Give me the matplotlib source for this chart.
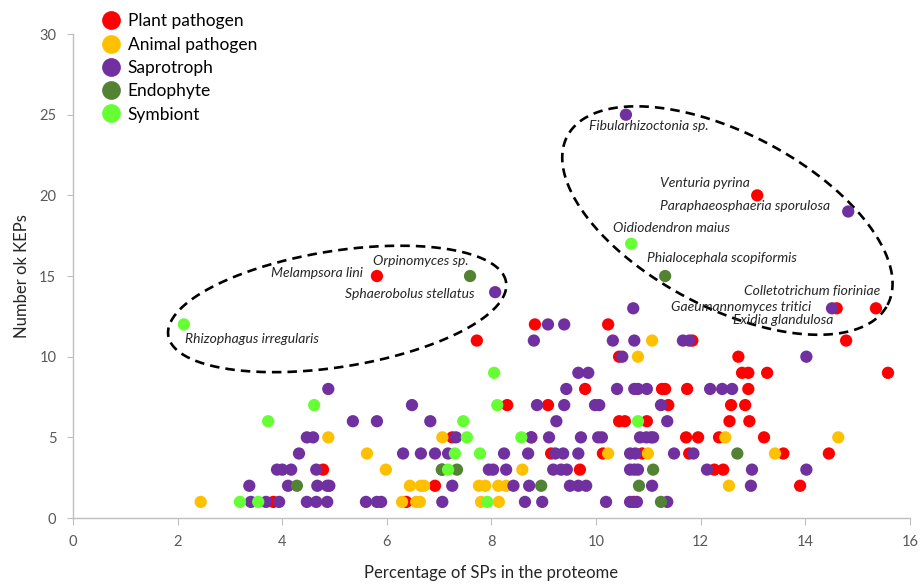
import numpy as np
import matplotlib.pyplot as plt
from matplotlib.lines import Line2D

plt.rcParams['font.family'] = ['Lato', 'DejaVu Sans']

# values (x = % SPs, y = number of KEPs)
plant_x = [5.81, 13.08, 14.60, 15.35,
           8.83, 10.23,
           7.72, 11.84, 14.78,
           10.44, 12.72,
           12.79, 12.91, 13.27, 15.58,
           9.79, 11.26, 11.32, 11.74, 12.91,
           8.30, 9.08, 11.38, 12.58, 12.85,
           10.44, 10.55, 10.97, 12.55, 12.93,
           7.25, 8.76, 11.05, 11.72, 11.95, 12.35, 13.21,
           9.14, 10.13, 10.88, 11.78, 13.58, 14.45,
           4.78, 9.69, 12.26, 12.43,
           6.92, 13.90,
           3.83, 6.37, 10.72]
plant_y = [15, 20, 13, 13,
           12, 12,
           11, 11, 11,
           10, 10,
           9, 9, 9, 9,
           8, 8, 8, 8, 8,
           7, 7, 7, 7, 7,
           6, 6, 6, 6, 6,
           5, 5, 5, 5, 5, 5, 5,
           4, 4, 4, 4, 4, 4,
           3, 3, 3, 3,
           2, 2,
           1, 1, 1]

animal_x = [11.07,
            10.80,
            4.88, 7.06, 12.47, 14.63,
            5.62, 10.23, 10.99, 13.42,
            5.98, 8.59,
            6.44, 6.65, 6.71, 7.76, 7.88, 8.13, 8.28, 12.54,
            2.44, 6.29, 6.56, 6.63, 7.80, 8.14]
animal_y = [11,
            10,
            5, 5, 5, 5,
            4, 4, 4, 4,
            3, 3,
            2, 2, 2, 2, 2, 2, 2, 2,
            1, 1, 1, 1, 1, 1]

sapro_x = [8.07, 10.57, 14.82, 14.51,
           10.71,
           9.08, 9.39,
           8.81, 10.32, 10.73, 11.66, 11.78,
           10.50, 14.02,
           9.66, 9.85,
           4.88, 9.43, 10.40, 10.73, 10.80, 10.97, 12.18, 12.41, 12.60,
           6.48, 8.87, 9.39, 9.98, 10.06, 11.24,
           5.35, 5.81, 6.83, 9.24, 11.36,
           4.47, 4.59, 7.32, 8.76, 9.10, 9.71, 10.04, 10.11, 10.84, 10.96, 11.09,
           4.32, 6.31, 6.65, 6.92, 7.17, 8.24, 8.70, 9.22, 9.37, 9.66, 10.65,
           10.75, 11.49, 11.86,
           3.90, 4.00, 4.17, 4.65, 7.06, 7.95, 8.03, 8.28, 9.18, 9.33, 9.44,
           10.65, 10.73, 10.80, 12.12, 12.98, 14.02,
           3.37, 4.11, 4.67, 4.86, 4.90, 7.25, 8.42, 8.72, 9.50, 9.66, 9.81,
           11.07, 12.96,
           3.40, 3.69, 3.94, 4.47, 4.65, 4.86, 5.60, 5.81, 5.89, 7.06, 8.64,
           8.97, 10.19, 10.65, 10.78, 11.36]
sapro_y = [14, 25, 19, 13,
           13,
           12, 12,
           11, 11, 11, 11, 11,
           10, 10,
           9, 9,
           8, 8, 8, 8, 8, 8, 8, 8, 8,
           7, 7, 7, 7, 7, 7,
           6, 6, 6, 6, 6,
           5, 5, 5, 5, 5, 5, 5, 5, 5, 5, 5,
           4, 4, 4, 4, 4, 4, 4, 4, 4, 4, 4,
           4, 4, 4,
           3, 3, 3, 3, 3, 3, 3, 3, 3, 3, 3,
           3, 3, 3, 3, 3, 3,
           2, 2, 2, 2, 2, 2, 2, 2, 2, 2, 2,
           2, 2,
           1, 1, 1, 1, 1, 1, 1, 1, 1, 1, 1,
           1, 1, 1, 1, 1]

endo_x = [7.59, 11.32, 12.70, 7.05, 7.34, 11.09, 4.28, 8.95, 10.82, 11.24]
endo_y = [15, 15, 4, 3, 3, 3, 2, 2, 2, 1]

symb_x = [2.12, 10.67, 8.05, 4.61, 8.11, 3.73, 7.46, 10.80, 7.53, 8.57,
          7.30, 7.78, 7.17, 3.19, 3.54, 7.92]
symb_y = [12, 17, 9, 7, 7, 6, 6, 6, 5, 5,
          4, 4, 3, 1, 1, 1]

groups = ['Plant pathogen', 'Animal pathogen', 'Saprotroph', 'Endophyte', 'Symbiont']
colors = ['#FF0000', '#FFC000', '#7030A0', '#548235', '#66FF33']

# labelled species: (name, label x, label y)
labels = [
    ('Rhizophagus irregularis', 2.14, 11.10),
    ('Melampsora lini', 3.79, 15.19),
    ('Orpinomyces sp.', 5.74, 15.93),
    ('Sphaerobolus stellatus', 5.20, 13.89),
    ('Fibularhizoctonia sp.', 9.87, 24.30),
    ('Venturia pyrina', 11.22, 20.77),
    ('Paraphaeosphaeria sporulosa', 11.22, 19.34),
    ('Oidiodendron maius', 10.33, 17.98),
    ('Phialocephala scopiformis', 10.98, 16.12),
    ('Colletotrichum fioriniae', 12.83, 14.07),
    ('Gaeumannomyces tritici', 11.43, 13.08),
    ('Exidia glandulosa', 12.62, 12.28),
]


def dashed_ellipse(ax, cx, cy, a_px, b_px, angle_deg):
    # semi-axes in pixels, turned into data units via the axes scale
    bb = ax.get_window_extent()
    x0, x1 = ax.get_xlim()
    y0, y1 = ax.get_ylim()
    sx = bb.width / (x1 - x0)
    sy = bb.height / (y1 - y0)
    t = np.linspace(0, 2 * np.pi, 400)
    th = np.radians(angle_deg)
    dx = a_px * np.cos(t) * np.cos(th) - b_px * np.sin(t) * np.sin(th)
    dy = a_px * np.cos(t) * np.sin(th) + b_px * np.sin(t) * np.cos(th)
    ax.plot(cx + dx / sx, cy + dy / sy, color='black', lw=1.9,
            dashes=(3.6, 2.3), zorder=1)


fig = plt.figure(figsize=(9.21, 5.87), dpi=100)
ax = fig.add_axes([0.0793, 0.1175, 0.9087, 0.8245])

series = [(plant_x, plant_y), (animal_x, animal_y), (sapro_x, sapro_y),
          (endo_x, endo_y), (symb_x, symb_y)]
for (xs, ys), c in zip(series, colors):
    ax.scatter(xs, ys, s=78, color=c, edgecolors='none', zorder=3)

ax.set_xlim(0, 16)
ax.set_ylim(0, 30)
ax.set_xticks(range(0, 17, 2))
ax.set_yticks(range(0, 31, 5))
for side in ['top', 'right']:
    ax.spines[side].set_visible(False)
for side in ['left', 'bottom']:
    ax.spines[side].set_color('#BFBFBF')
    ax.spines[side].set_linewidth(1.0)
ax.tick_params(axis='both', colors='#BFBFBF', labelcolor='#595959',
               labelsize=10.5, length=5)
ax.tick_params(axis='x', pad=7)
ax.tick_params(axis='y', length=4, pad=8)

ax.set_xlabel('Percentage of SPs in the proteome', fontsize=12,
              color='#262626', labelpad=12)
ax.set_ylabel('Number ok KEPs', fontsize=12, color='#262626', labelpad=7)

for name, lx, ly in labels:
    ax.text(lx, ly, name, fontsize=10, style='italic', color='#262626',
            ha='left', va='center', zorder=4)

dashed_ellipse(ax, 5.05, 12.96, 171, 58, 9)
dashed_ellipse(ax, 12.51, 18.44, 181, 87, -27.8)

handles = [Line2D([], [], marker='o', ls='none', markersize=13.5,
                  markerfacecolor=c, markeredgecolor='none') for c in colors]
fig.legend(handles, groups, loc='upper left', bbox_to_anchor=(0.098, 0.995),
           frameon=False, fontsize=12.5, labelspacing=0.42, handletextpad=0.35,
           handlelength=1.2, borderaxespad=0.2)

fig.savefig('out.png', dpi=100)
